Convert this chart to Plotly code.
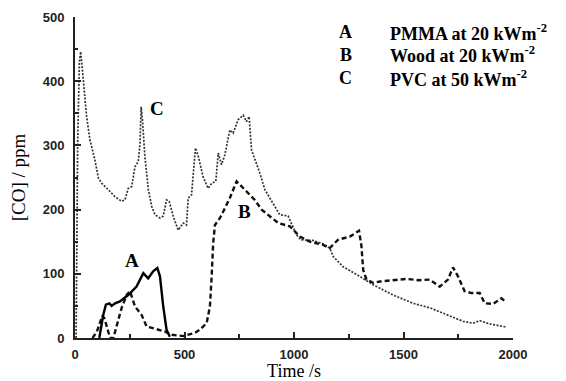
import plotly.graph_objects as go

# Series A: PMMA at 20 kW/m2 (solid)
a_time = [111, 129, 141, 157, 167, 183, 205, 243, 281, 312, 334, 357, 376, 388, 403, 418, 433]
a_co = [0, 36, 52, 54, 50, 54, 57, 67, 80, 101, 93, 104, 109, 96, 49, 13, 2]

# Series B: Wood at 20 kW/m2 (dashed)
b_time = [80, 100, 115, 125, 135, 150, 160, 175, 198, 213, 236, 251, 274, 304, 327, 373, 411, 441, 494,
          548, 570, 601, 616, 624, 631, 639, 662, 677, 707, 738, 760, 783, 821, 852, 890, 928, 981, 1027,
          1072, 1133, 1163, 1201, 1255, 1297, 1308, 1316, 1331, 1361, 1392, 1450, 1513, 1570, 1620, 1665,
          1703, 1726, 1749, 1779, 1810, 1848, 1871, 1909, 1947, 1970]
b_co = [0, 10, 25, 35, 30, 10, 0, 0, 28, 47, 67, 73, 49, 36, 18, 14, 10, 5, 3,
        8, 13, 23, 49, 96, 148, 176, 187, 197, 218, 244, 236, 228, 215, 200, 189, 179, 174, 158,
        150, 145, 140, 153, 158, 167, 143, 106, 91, 86, 88, 90, 92, 90, 91, 80,
        91, 110, 96, 73, 70, 70, 54, 53, 62, 55]

# Series C: PVC at 50 kW/m2 (dotted)
c_time = [5, 12, 20, 26, 38, 53, 68, 91, 107, 122, 152, 183, 213, 228, 243, 259, 274, 289, 297, 302, 308,
          319, 335, 350, 365, 388, 403, 418, 430, 449, 471, 494, 509, 517, 532, 550, 563, 585, 608, 624,
          643, 654, 669, 684, 707, 722, 745, 768, 783, 795, 806, 844, 867, 905, 935, 973, 996, 1011, 1030,
          1086, 1130, 1163, 1179, 1224, 1300, 1361, 1452, 1544, 1620, 1696, 1772, 1817, 1848, 1893, 1970]
c_co = [0, 300, 430, 446, 402, 345, 309, 277, 249, 241, 231, 220, 213, 215, 233, 236, 267, 275, 303, 360, 340,
        283, 231, 205, 192, 187, 190, 215, 213, 189, 168, 179, 176, 218, 223, 296, 283, 251, 233, 241,
        244, 288, 270, 285, 324, 319, 340, 347, 337, 345, 293, 257, 231, 210, 192, 190, 174, 161, 153,
        152, 147, 140, 127, 111, 96, 83, 67, 54, 47, 36, 26, 23, 27, 22, 17]

legend_keys = ["A", "B", "C"]
legend_names = ["PMMA at 20 kWm<sup>-2</sup>", "Wood at 20 kWm<sup>-2</sup>", "PVC at 50 kWm<sup>-2</sup>"]
curve_labels = ["A", "B", "C"]
label_time = [258, 776, 376]
label_co = [120, 197, 358]

fig = go.Figure()
fig.add_trace(go.Scatter(x=c_time, y=c_co, mode="lines",
                         line=dict(color="#333333", width=1.7, dash="2px,1.5px")))
fig.add_trace(go.Scatter(x=b_time, y=b_co, mode="lines",
                         line=dict(color="#111111", width=2.4, dash="5px,3px")))
fig.add_trace(go.Scatter(x=a_time, y=a_co, mode="lines",
                         line=dict(color="#000000", width=2.4)))

serif = "Liberation Serif, Times New Roman, serif"
for lab, tx, ty in zip(curve_labels, label_time, label_co):
    fig.add_annotation(x=tx, y=ty, text="<b>%s</b>" % lab, showarrow=False,
                       font=dict(family=serif, size=19, color="black"))

ys = [32.5, 55, 78.5]
for k, name, yy in zip(legend_keys, legend_names, ys):
    fig.add_annotation(xref="paper", yref="paper", x=(346 - 75) / 438.3, y=1 - (yy - 17) / 321.3,
                       text="<b>%s</b>" % k, showarrow=False, xanchor="center", yanchor="middle",
                       font=dict(family=serif, size=18, color="black"))
    fig.add_annotation(xref="paper", yref="paper", x=(388 - 75) / 438.3, y=1 - (yy - 17) / 321.3,
                       text="<b>%s</b>" % name, showarrow=False, xanchor="left", yanchor="middle",
                       font=dict(family=serif, size=18, color="black"))

tickfont = dict(family="Liberation Sans, Arial, sans-serif", size=13, color="#222222", weight="bold")
fig.update_layout(
    width=566, height=381,
    margin=dict(l=75, r=53, t=17, b=43),
    paper_bgcolor="white", plot_bgcolor="white",
    showlegend=False,
    xaxis=dict(range=[0, 2000], tick0=0, dtick=500, ticks="inside", ticklen=6, tickwidth=1.5,
               tickcolor="#222", showline=True, linecolor="#222", linewidth=2, showgrid=False,
               zeroline=False, tickfont=tickfont, automargin=False, ticklabelstandoff=3,
               minor=dict(dtick=250, ticks="inside", ticklen=4, tickcolor="#222"),
               title=dict(text="Time /s", font=dict(family=serif, size=18, color="black"), standoff=4)),
    yaxis=dict(range=[0, 500], tick0=0, dtick=100, ticks="inside", ticklen=6, tickwidth=1.5,
               tickcolor="#222", showline=True, linecolor="#222", linewidth=2, showgrid=False,
               zeroline=False, tickfont=tickfont, automargin=False, ticklabelstandoff=6,
               minor=dict(dtick=50, ticks="inside", ticklen=3, tickcolor="#222"),
               title=dict(text="[CO] / ppm", font=dict(family=serif, size=19, color="black"), standoff=12)),
)

fig.write_html("out.html")
